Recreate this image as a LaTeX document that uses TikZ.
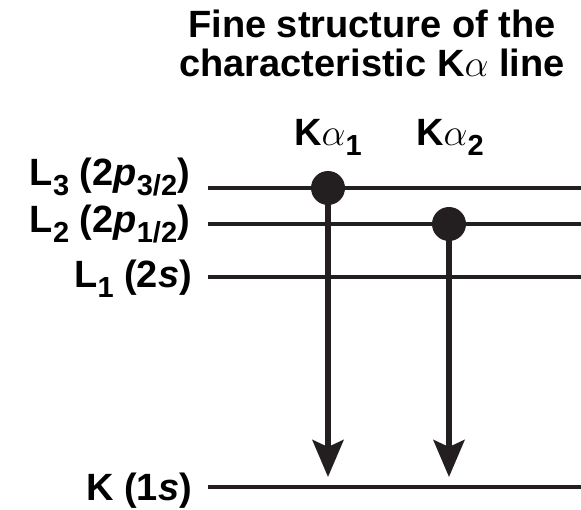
\documentclass[tikz,border=0pt]{standalone}
\usepackage{fix-cm}
\usepackage{fontspec}
\setmainfont{Liberation Sans}
\usetikzlibrary{arrows.meta}
\definecolor{ink}{HTML}{231F20}
\newcommand{\lowidx}[1]{\raisebox{-10pt}{\fontsize{29}{30}\selectfont #1}}

\begin{document}
\begin{tikzpicture}[x=1pt,y=-1pt,
  level/.style={line width=4.5pt,ink},
  lvlabel/.style={anchor=base east,inner sep=0pt,font=\fontsize{38}{44}\selectfont\bfseries},
  dot/.style={circle,fill=ink,minimum size=34pt,inner sep=0pt},
  trans/.style={line width=5.5pt,ink,-{Stealth[length=37pt,width=31pt,inset=7pt]}}]
\useasboundingbox (0,0) rectangle (581,509);
% title
\node[align=center,anchor=north,inner sep=0pt,font=\fontsize{38}{39}\selectfont\bfseries] (title) at (372,10)
  {Fine structure of the\\characteristic K$\alpha$ line};
% levels
\node[lvlabel] (lL3) at (190,185) {L\lowidx{3} (2\textit{p}\lowidx{3/2})};
\node[lvlabel] (lL2) at (190,232) {L\lowidx{2} (2\textit{p}\lowidx{1/2})};
\node[lvlabel] (lL1) at (192,287) {L\lowidx{1} (2\textit{s})};
\node[lvlabel] (lK) at (192,500) {K (1\textit{s})};
\draw[level] (208,188) -- (581,188);
\draw[level] (208,224) -- (581,224);
\draw[level] (208,277) -- (581,277);
\draw[level] (208,487) -- (581,487);
% transitions
\node[dot] (dotA) at (328,188) {};
\node[dot] (dotB) at (449,224) {};
\coordinate (tipA) at (328,477);
\coordinate (tipB) at (449,477);
\draw[trans] (dotA.center) -- (tipA);
\draw[trans] (dotB.center) -- (tipB);
\node[anchor=base,inner sep=0pt,font=\fontsize{38}{44}\selectfont\bfseries] (kA) at (328,145) {K$\alpha$\lowidx{1}};
\node[anchor=base,inner sep=0pt,font=\fontsize{38}{44}\selectfont\bfseries] (kB) at (450,145) {K$\alpha$\lowidx{2}};
\end{tikzpicture}
\end{document}
